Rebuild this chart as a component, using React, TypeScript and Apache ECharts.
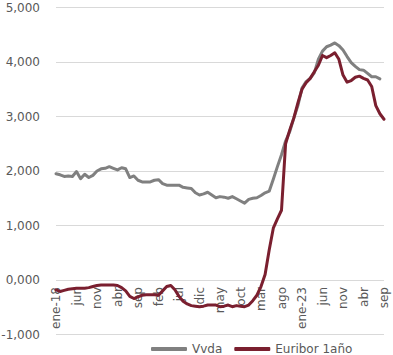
import React, { useEffect, useRef } from "react";
import * as echarts from "echarts";

// Month abbreviations (Spanish) and the span of the data
const monthNames = ["ene", "feb", "mar", "abr", "may", "jun", "jul", "ago", "sep", "oct", "nov", "dic"];
const startYear = 2018;
const monthCount = 81; // ene-18 .. sep-24

// Vivienda (mortgage) rate, %, monthly from ene-18
const vvda: (number | null)[] = [
  1.95, 1.93, 1.90, 1.91, 1.90, 1.99, 1.86, 1.94, 1.88, 1.92,
  2.00, 2.04, 2.05, 2.08, 2.05, 2.02, 2.06, 2.04, 1.88, 1.91,
  1.83, 1.80, 1.80, 1.80, 1.83, 1.84, 1.77, 1.74, 1.74, 1.74,
  1.74, 1.70, 1.69, 1.68, 1.60, 1.56, 1.58, 1.61, 1.56, 1.51,
  1.53, 1.52, 1.50, 1.53, 1.49, 1.45, 1.41, 1.48, 1.50, 1.51,
  1.55, 1.60, 1.63, 1.85, 2.08, 2.30, 2.55, 2.72, 2.97, 3.20,
  3.52, 3.64, 3.70, 3.80, 4.05, 4.20, 4.28, 4.31, 4.35, 4.30,
  4.22, 4.10, 3.99, 3.92, 3.86, 3.85, 3.79, 3.73, 3.73, 3.69,
  null,
];

// Euribor 1 year, %, monthly from ene-18
const euribor: number[] = [
  -0.18, -0.21, -0.19, -0.17, -0.16, -0.15, -0.15, -0.15, -0.14, -0.12,
  -0.10, -0.09, -0.09, -0.09, -0.09, -0.10, -0.14, -0.20, -0.30, -0.34,
  -0.31, -0.28, -0.27, -0.27, -0.27, -0.28, -0.20, -0.12, -0.10, -0.18,
  -0.30, -0.39, -0.44, -0.47, -0.48, -0.49, -0.48, -0.46, -0.46, -0.46,
  -0.49, -0.48, -0.46, -0.49, -0.47, -0.48, -0.49, -0.46, -0.38, -0.28,
  -0.12, 0.10, 0.55, 0.95, 1.12, 1.28, 2.50, 2.75, 2.97, 3.25,
  3.50, 3.62, 3.70, 3.82, 3.94, 4.12, 4.08, 4.12, 4.17, 4.05,
  3.76, 3.63, 3.66, 3.72, 3.74, 3.70, 3.67, 3.55, 3.20, 3.05,
  2.95,
];

const seriesNames = ["Vvda", "Euribor 1año"];
const yTicks = { min: -1, max: 5, interval: 1 };

const categories: string[] = [];
for (let i = 0; i < monthCount; i++) {
  const m = i % 12;
  const y = startYear + Math.floor(i / 12);
  categories.push(m === 0 ? `${monthNames[m]}-${String(y).slice(2)}` : monthNames[m]);
}

export default function App() {
  const ref = useRef<HTMLDivElement>(null);
  useEffect(() => {
    if (!ref.current) return;
    const chart = echarts.init(ref.current, undefined, { renderer: "svg" });
    const font = "DejaVu Sans";
    const textColor = "#595959";
    const gridTop = 7.5;
    const gridBottom = 20.5;
    const plotHeight = 355 - gridTop - gridBottom;
    // distance from the bottom of the plot (y = min) up to y = 0
    const zeroOffset = (plotHeight * (0 - yTicks.min)) / (yTicks.max - yTicks.min);
    chart.setOption({
      animation: false,
      textStyle: { fontFamily: font },
      grid: {
        left: 56,
        right: 9,
        top: gridTop,
        bottom: gridBottom,
        containLabel: false,
        outerBoundsMode: "none",
      },
      legend: {
        left: 146,
        top: 338,
        itemWidth: 36,
        itemHeight: 4,
        itemGap: 12,
        icon: "roundRect",
        textStyle: { color: textColor, fontSize: 12, fontFamily: font },
        data: seriesNames,
      },
      xAxis: {
        type: "category",
        data: categories,
        boundaryGap: false,
        position: "bottom",
        offset: -zeroOffset,
        axisLine: { show: false, onZero: false },
        axisTick: { show: false },
        splitLine: { show: false },
        axisLabel: {
          interval: 4,
          rotate: 90,
          margin: 7,
          color: textColor,
          fontSize: 12,
          fontFamily: font,
        },
      },
      yAxis: {
        type: "value",
        min: yTicks.min,
        max: yTicks.max,
        interval: yTicks.interval,
        axisLine: { show: false },
        axisTick: { show: false },
        splitLine: { lineStyle: { color: "#d9d9d9", width: 1 } },
        axisLabel: {
          margin: 16,
          color: textColor,
          fontSize: 12,
          fontFamily: font,
          formatter: (v: number) => v.toFixed(3).replace(".", ","),
        },
      },
      series: [
        {
          name: seriesNames[0],
          type: "line",
          data: vvda,
          symbol: "none",
          color: "#808080",
          lineStyle: { width: 3, color: "#808080", cap: "round", join: "round" },
        },
        {
          name: seriesNames[1],
          type: "line",
          data: euribor,
          symbol: "none",
          color: "#7a1f2f",
          lineStyle: { width: 3, color: "#7a1f2f", cap: "round", join: "round" },
        },
      ],
    });
    return () => chart.dispose();
  }, []);
  return (
    <div
      ref={ref}
      style={{ position: "fixed", left: 0, top: 0, width: 393, height: 355, background: "#fff" }}
    />
  );
}
